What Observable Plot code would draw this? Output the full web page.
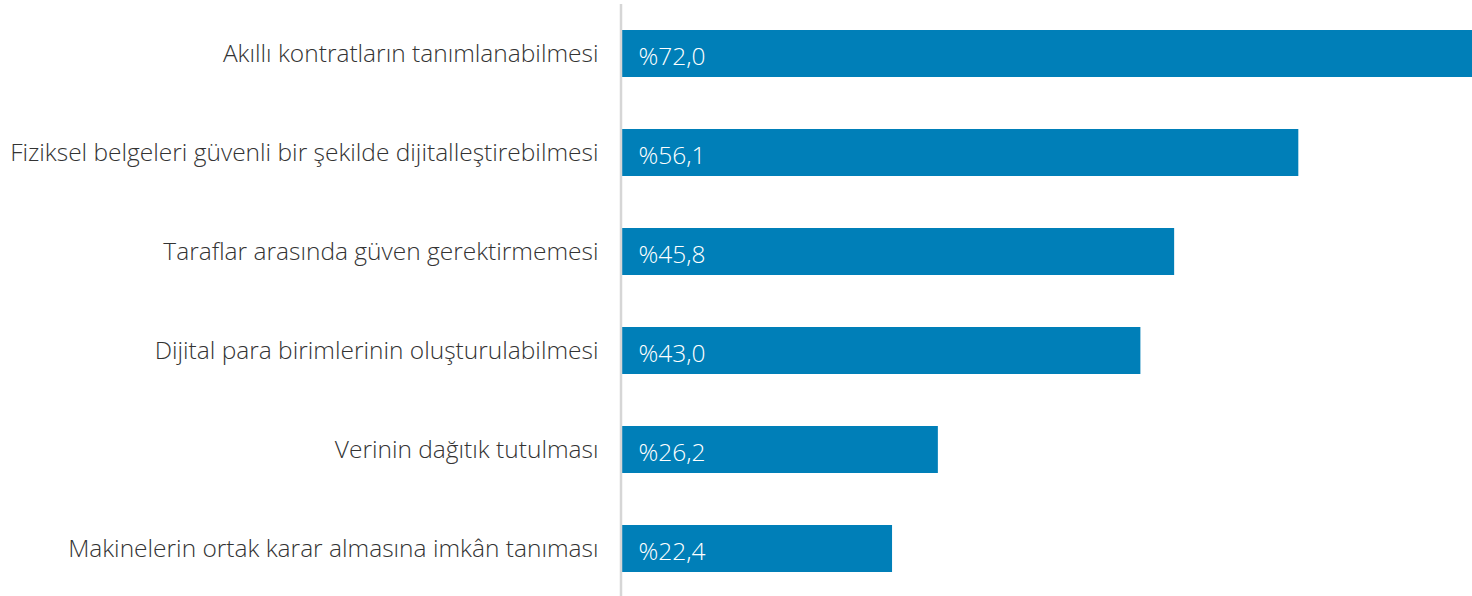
<!DOCTYPE html>
<html>
<head>
<meta charset="utf-8">
<script src="https://cdn.jsdelivr.net/npm/d3@7"></script>
<script src="https://cdn.jsdelivr.net/npm/@observablehq/plot@0.6"></script>
<style>
  html, body { margin: 0; padding: 0; background: #fff; overflow: hidden; }
</style>
</head>
<body>
<div id="chart"></div>
<script>
const categories = [
  "Akıllı kontratların tanımlanabilmesi",
  "Fiziksel belgeleri güvenli bir şekilde dijitalleştirebilmesi",
  "Taraflar arasında güven gerektirmemesi",
  "Dijital para birimlerinin oluşturulabilmesi",
  "Verinin dağıtık tutulması",
  "Makinelerin ortak karar almasına imkân tanıması"
];
const values = [72.0, 56.1, 45.8, 43.0, 26.2, 22.4];

const data = categories.map((c, i) => ({ category: c, value: values[i] }));
const fmt = v => "%" + v.toFixed(1).replace(".", ",");

const chart = Plot.plot({
  width: 1491,
  height: 598,
  marginLeft: 622,
  marginRight: 1,
  marginTop: 4,
  marginBottom: 0,
  style: { fontFamily: "'Open Sans', sans-serif", maxWidth: "none", background: "#fff", overflow: "visible" },
  x: { domain: [0, d3.max(values)], axis: null },
  y: { domain: categories, paddingInner: 0.53, paddingOuter: 0.265, label: null },
  marks: [
    Plot.barX(data, { y: "category", x: "value", fill: "#007fb8" }),
    Plot.ruleX([0], { stroke: "#d6d6d6", strokeWidth: 2.5, dx: -1.5 }),
    Plot.text(data, {
      y: "category", x: 0, text: d => fmt(d.value),
      textAnchor: "start", dx: 16, dy: 3, fill: "#fff", fontSize: 24.5, fontWeight: 300
    }),
    Plot.axisY({ tickSize: 0, tickPadding: 24, fontSize: 24.5, fontWeight: 300, color: "#333", label: null })
  ]
});
document.getElementById("chart").appendChild(chart);
</script>
</body>
</html>
